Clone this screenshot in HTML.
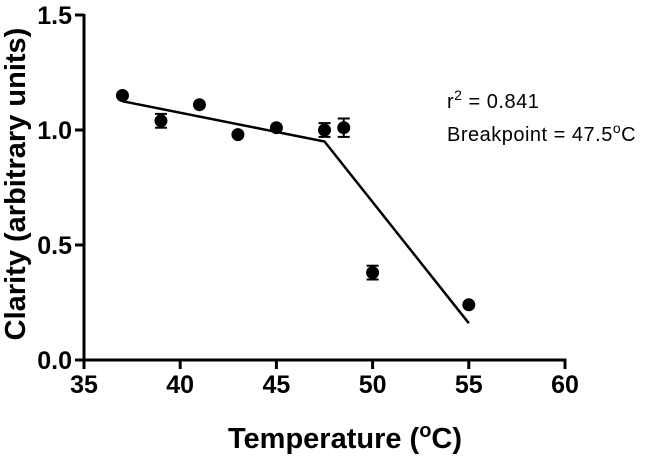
<!DOCTYPE html>
<html><head><meta charset="utf-8"><style>
body{margin:0;background:#fff;width:672px;height:456px;overflow:hidden;position:relative}
svg{display:block;font-family:"Liberation Sans",Arial,sans-serif}
</style></head><body>
<svg id="chart" width="672" height="456"></svg>
<script>
const temps=[37,39,41,43,45,47.5,48.5,50,55];
const clarity=[1.15,1.04,1.11,0.98,1.01,1.0,1.01,0.38,0.24];
const errs=[0,0.03,0,0,0,0.03,0.04,0.03,0];
const fitX=[37,47.5,55];
const fitY=[1.125,0.95,0.16];
const xTicks=[35,40,45,50,55,60];
const yTicks=[0,0.5,1.0,1.5];
const yTickLabels=["0.0","0.5","1.0","1.5"];
const NS="http://www.w3.org/2000/svg";
const svg=document.getElementById('chart');
const X=v=>84+(v-35)*(565-84)/25;
const Y=v=>360-v*(345/1.5);
function mk(t,a,p){const e=document.createElementNS(NS,t);for(const k in a)e.setAttribute(k,a[k]);(p||svg).appendChild(e);return e;}
let e;
e=mk('line',{x1:84,y1:Y(1.5)-1,x2:84,y2:361.5,stroke:'#000','stroke-width':3});


e=mk('line',{x1:82.5,y1:360,x2:566.5,y2:360,stroke:'#000','stroke-width':3});


xTicks.forEach(v=>{
 e=mk('line',{x1:X(v),y1:360,x2:X(v),y2:369,stroke:'#000','stroke-width':3});
 
 
 e=mk('text',{x:X(v),y:393,'text-anchor':'middle',style:'font-size:25px;font-weight:bold'});e.textContent=v;
 
 
});
yTicks.forEach((v,i)=>{
 e=mk('line',{x1:75,y1:Y(v),x2:84,y2:Y(v),stroke:'#000','stroke-width':3});
 
 
 e=mk('text',{x:72,y:Y(v)+9,'text-anchor':'end',style:'font-size:25px;font-weight:bold'});e.textContent=yTickLabels[i];
 
 
});
e=mk('polyline',{points:fitX.map((x,i)=>X(x)+','+Y(fitY[i])).join(' '),fill:'none',stroke:'#000','stroke-width':2.5});


temps.forEach((t,i)=>{
 if(errs[i]>0){
  const g=mk('g',{stroke:'#000','stroke-width':2});
  
  
  mk('line',{x1:X(t),y1:Y(clarity[i]+errs[i]),x2:X(t),y2:Y(clarity[i]-errs[i])},g);
  mk('line',{x1:X(t)-6,y1:Y(clarity[i]+errs[i]),x2:X(t)+6,y2:Y(clarity[i]+errs[i])},g);
  mk('line',{x1:X(t)-6,y1:Y(clarity[i]-errs[i]),x2:X(t)+6,y2:Y(clarity[i]-errs[i])},g);
 }
 e=mk('circle',{cx:X(t),cy:Y(clarity[i]),r:6.5,fill:'#000'});
 
 
});
</script>
<svg width="672" height="456" style="position:absolute;left:0;top:0;font-family:'Liberation Sans',Arial,sans-serif">
<text x="447" y="108" style="font-size:20px;letter-spacing:0.5px">r<tspan dy="-8" style="font-size:14px">2</tspan><tspan dy="8"> = 0.841</tspan></text>
<text x="447" y="141" style="font-size:20px;letter-spacing:0.5px">Breakpoint = 47.5<tspan dy="-8" style="font-size:14px">o</tspan><tspan dy="8">C</tspan></text>
<text x="345" y="448" text-anchor="middle" style="font-size:29px;font-weight:bold">Temperature (<tspan dy="-11" style="font-size:20px">o</tspan><tspan dy="11">C)</tspan></text>
<text transform="translate(25,184) rotate(-90)" text-anchor="middle" style="font-size:29px;font-weight:bold">Clarity (arbitrary units)</text>
</svg>
</body></html>
